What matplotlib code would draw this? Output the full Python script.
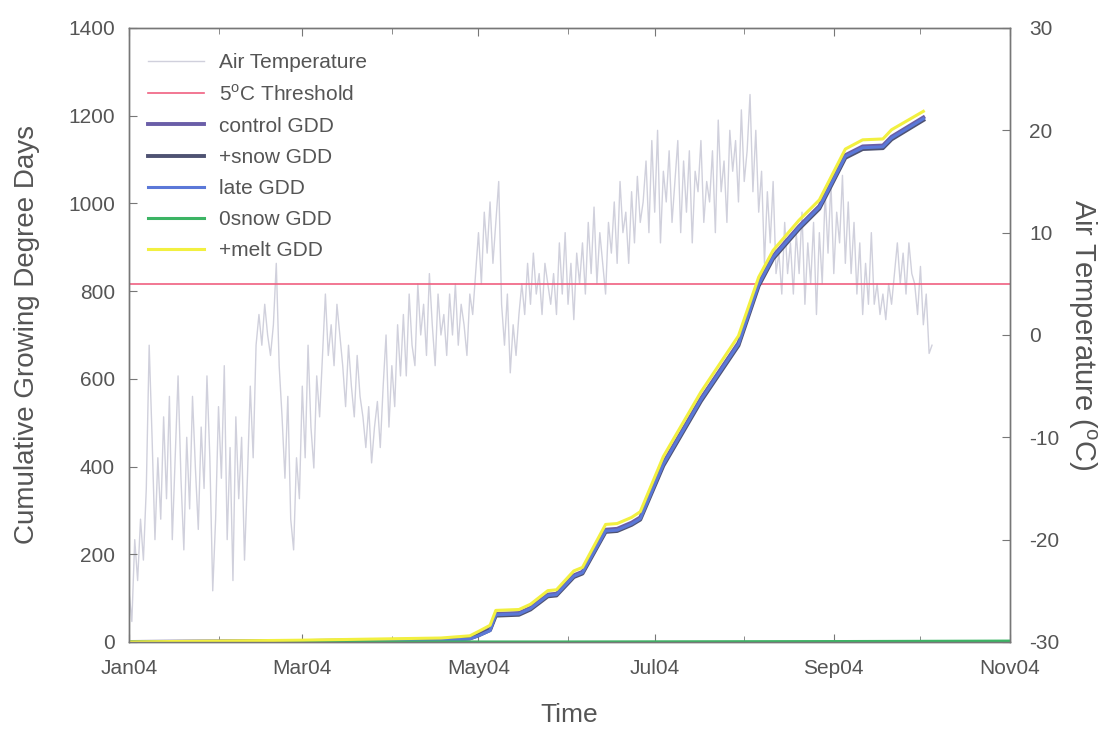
import datetime as dt
import numpy as np
import matplotlib
matplotlib.use("Agg")
import matplotlib.pyplot as plt
import matplotlib.dates as mdates

plt.rcParams['font.family'] = ['Liberation Sans', 'DejaVu Sans']
plt.rcParams['mathtext.fontset'] = 'custom'
plt.rcParams['mathtext.rm'] = 'Liberation Sans'
plt.rcParams['axes.unicode_minus'] = False

# daily air temperature (deg C) from 1 Jan 2004
air_temp = [
    -25, -28, -20, -24, -18,
    -22, -15, -1, -10, -20, -12, -18,
    -8, -16, -6, -20, -12, -4, -14, -21, -10, -17, -6, -13, -19, -9,
    -15, -4, -12, -25, -18, -7, -14, -3, -20, -11, -24, -8, -16,
    -10, -22, -14, -5, -12, -1,
    2, -1, 3, 0, -2, 1,
    7, -3, -8, -14, -6, -18, -21, -12, -16,
    -5, -12, -1, -9, -13, -4, -8, -2,
    4, -2, 1, -3, 3, 0,
    -3, -7, -1, -5, -8, -2, -6,
    -8, -11, -7, -12.5, -9, -6.5, -11,
    -5, 0, -9, -3, -7, 1, -4,
    2, -4, 4, -1, -3, 5, 0,
    3, -2, 6, 1, -3, 4, 0,
    2, -2, 4, 0, 5, -1, 3, 1, -2, 4, 2,
    6, 10, 5, 12, 8, 13, 7, 11, 15,
    3, -1, 4, -3.7, 1, -2, 2,
    5, 2, 7, 3, 8, 4, 6, 2, 7, 5, 3,
    6, 2, 9, 4, 10, 3, 7, 1.5, 8, 5,
    9, 4, 11, 6, 12.5, 5, 10, 7, 4, 11,
    8, 13, 7, 15, 10, 12, 7, 14, 9, 15.5, 11,
    13, 17, 10, 19, 12, 20, 9, 16, 13, 18, 11,
    15, 19, 10, 17, 12, 18, 9, 16, 14, 19, 11, 15,
    13, 18, 10, 21, 14, 17, 11, 20, 16,
    19, 13, 22, 15, 18, 23.5, 14, 20,
    12, 16, 7, 14, 9, 15, 6,
    8, 4, 11, 6, 9, 4, 10,
    6, 12, 3, 9, 5, 11, 2,
    10, 5, 14, 8, 15, 6, 12,
    9, 15.6, 7, 13, 6, 11,
    4, 9, 2, 7, 3, 10,
    3, 5, 2, 4, 1.5, 5, 3,
    6, 9, 5, 8, 4, 9, 6,
    5, 2, 6.7, 1, 4, -1.8, -1,
]

# cumulative GDD, day of year 2004
gdd_days = [0, 59, 108, 118, 121, 125, 127, 135, 139, 145, 148, 154, 157, 165, 169,
            174, 177, 185, 198, 211, 218, 223, 232, 239, 248, 254, 261, 264, 275]
control_gdd = [0, 2, 6, 10, 18, 30, 64, 66, 78, 108, 110, 152, 160, 256, 258,
               272, 284, 408, 555, 682, 818, 880, 948, 994, 1110, 1130, 1132, 1152, 1196]
snow_gdd = [0, 1, 4, 8, 15, 27, 60, 62, 74, 104, 106, 148, 156, 251, 253,
            267, 279, 402, 549, 676, 812, 874, 942, 988, 1104, 1124, 1126, 1146, 1190]
late_gdd = [0, 0, 3, 7, 14, 26, 62, 64, 76, 106, 108, 150, 158, 253, 255,
            269, 281, 405, 552, 679, 815, 877, 945, 991, 1107, 1127, 1129, 1149, 1193]
melt_gdd = [0, 4, 9, 14, 24, 38, 72, 74, 86, 117, 119, 162, 170, 268, 270,
            284, 297, 423, 570, 698, 832, 893, 962, 1008, 1124, 1145, 1147, 1168, 1210]
zero_days = [0, 150, 250, 305]
zero_gdd = [0, 0, 1, 2]

threshold = 5

start = mdates.date2num(dt.datetime(2004, 1, 1))
t_air = start + np.arange(len(air_temp))
t_gdd = start + np.array(gdd_days)
t_zero = start + np.array(zero_days)

grey = '#555555'
fig = plt.figure(figsize=(11.06, 7.31), dpi=100)
ax = fig.add_axes([0.1166, 0.1218, 0.7966, 0.8399])
ax2 = ax.twinx()

l_air, = ax2.plot(t_air, air_temp, color='#d0d0dc', lw=1.0, label='Air Temperature')
l_thr = ax2.axhline(threshold, color='#f06080', lw=1.2, label='5$^{\\rm o}$C Threshold')
ax2.set_ylim(-30, 30)
ax2.set_yticks(range(-30, 31, 10))

l_c, = ax.plot(t_gdd, control_gdd, color='#6a5ea8', lw=2.8, label='control GDD')
l_s, = ax.plot(t_gdd, snow_gdd, color='#4e5272', lw=2.8, label='+snow GDD')
l_l, = ax.plot(t_gdd, late_gdd, color='#5b78d8', lw=2.2, label='late GDD')
l_z, = ax.plot(t_zero, zero_gdd, color='#3cb464', lw=2.2, label='0snow GDD')
l_m, = ax.plot(t_gdd, melt_gdd, color='#f2f040', lw=2.2, label='+melt GDD')

ax.set_zorder(ax2.get_zorder() + 1)
ax.patch.set_visible(False)

ax.set_ylim(0, 1400)
ax.set_yticks(range(0, 1401, 200))
ax.set_xlim(start, mdates.date2num(dt.datetime(2004, 11, 1)))
ax.xaxis.set_major_locator(mdates.MonthLocator(bymonth=[1, 3, 5, 7, 9, 11]))
ax.xaxis.set_minor_locator(mdates.MonthLocator(bymonth=[2, 4, 6, 8, 10]))
ax.xaxis.set_major_formatter(mdates.DateFormatter('%b%y'))

for a in (ax, ax2):
    for sp in a.spines.values():
        sp.set_color('#777777')
        sp.set_linewidth(1.0)
    a.tick_params(which='both', direction='in', colors='#777777', labelcolor=grey, labelsize=15)
ax.tick_params(axis='x', which='both', top=True)
ax.tick_params(which='major', length=6)
ax.tick_params(which='minor', length=4)
ax2.tick_params(length=6, pad=14)
ax.tick_params(axis='y', pad=10)
ax.tick_params(axis='x', pad=12)

ax.set_xlabel('Time', fontsize=19, color=grey, labelpad=18)
ax.set_ylabel('Cumulative Growing Degree Days', fontsize=20, color=grey, labelpad=20)
ax2.set_ylabel('Air Temperature ($^{\\rm o}$C)', fontsize=21, color=grey, rotation=270, labelpad=28)

handles = [l_air, l_thr, l_c, l_s, l_l, l_z, l_m]
leg = ax.legend(handles=handles, loc='upper left', bbox_to_anchor=(0.0, 0.99), frameon=False,
                fontsize=15, handlelength=2.7, handletextpad=0.7, labelspacing=0.58)
for txt in leg.get_texts():
    txt.set_color(grey)

fig.savefig('out.png', dpi=100)
